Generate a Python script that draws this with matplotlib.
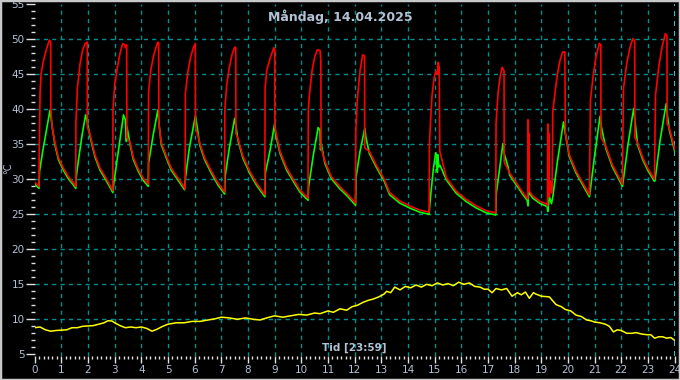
import matplotlib
matplotlib.use("Agg")
import matplotlib.pyplot as plt
from matplotlib.patches import Rectangle

title = "Måndag, 14.04.2025"
xlabel = "Tid [23:59]"
ylabel = "°C"
x_ticks = list(range(0, 25))
y_ticks = [5, 10, 15, 20, 25, 30, 35, 40, 45, 50, 55]

# Green series (hours, °C)
green_t = [0.00, 0.16, 0.18, 0.30, 0.45, 0.575, 0.62, 0.675, 0.76, 0.89, 1.075, 1.26, 1.45, 1.54,
           1.55, 1.65, 1.78, 1.91, 1.97, 2.075, 2.26, 2.45, 2.70, 2.93,
           2.95, 3.10, 3.33, 3.40, 3.44, 3.46, 3.58, 3.70, 3.89, 4.08, 4.26,
           4.27, 4.45, 4.62, 4.66, 4.75, 4.94, 5.12, 5.37, 5.62,
           5.64, 5.80, 6.03, 6.08, 6.19, 6.37, 6.62, 6.87, 7.12,
           7.14, 7.30, 7.50, 7.54, 7.62, 7.81, 8.06, 8.31, 8.63,
           8.65, 8.83, 9.00, 9.03, 9.20, 9.45, 9.70, 9.94, 10.25,
           10.27, 10.45, 10.63, 10.70, 10.72, 10.74, 10.88, 11.12, 11.43, 11.75, 12.03,
           12.05, 12.20, 12.38, 12.42, 12.55, 12.80, 13.11, 13.31, 13.69, 14.06, 14.44, 14.79,
           14.82, 14.95, 15.04, 15.08, 15.10, 15.12, 15.15, 15.20, 15.44, 15.81, 16.19, 16.56, 16.94, 17.29,
           17.31, 17.45, 17.56, 17.62, 17.75, 17.81, 18.06, 18.31, 18.47,
           18.50, 18.52, 18.55, 18.68, 18.93, 19.22,
           19.24, 19.30, 19.38, 19.43, 19.60, 19.83, 19.90, 20.05, 20.30, 20.55, 20.80,
           20.82, 21.00, 21.20, 21.25, 21.42, 21.66, 21.85, 22.04,
           22.06, 22.25, 22.46, 22.52, 22.61, 22.80, 22.99, 23.24,
           23.26, 23.45, 23.68, 23.73, 23.80, 24.00]
green_v = [29.3, 28.7, 31.1, 34.0, 37.2, 39.9, 38.6, 37.0, 34.9, 32.8, 31.3, 30.1, 29.2, 28.7,
           30.1, 33.0, 36.4, 39.2, 38.2, 36.1, 33.2, 31.3, 29.7, 28.1,
           29.0, 33.0, 39.2, 38.5, 35.4, 37.5, 34.9, 32.8, 31.1, 29.8, 29.0,
           32.3, 36.5, 39.9, 38.0, 34.9, 33.0, 31.3, 29.9, 28.5,
           29.8, 34.5, 39.1, 37.8, 34.9, 32.8, 30.9, 29.2, 27.9,
           30.4, 34.5, 38.7, 37.8, 35.6, 33.0, 30.9, 29.2, 27.5,
           30.9, 34.2, 38.0, 36.5, 33.7, 31.3, 29.7, 28.2, 27.0,
           28.9, 33.5, 37.4, 37.0, 34.2, 35.2, 32.3, 30.1, 28.7, 27.5, 26.3,
           30.3, 34.0, 37.3, 36.0, 33.7, 31.8, 29.7, 27.8, 26.6, 25.9, 25.3, 25.0,
           26.6, 31.5, 33.8, 33.2, 31.0, 33.5, 31.8, 32.0, 29.9, 28.0, 26.8, 25.9, 25.2, 24.9,
           28.0, 32.0, 35.1, 33.5, 31.8, 30.6, 29.2, 27.8, 27.0,
           26.2, 28.3, 28.0, 27.3, 26.6, 26.1,
           25.4, 27.5, 26.5, 27.5, 32.5, 38.2, 36.5, 33.2, 30.9, 29.2, 27.5,
           28.0, 33.5, 39.0, 37.5, 34.4, 31.8, 30.4, 29.0,
           29.5, 35.0, 40.1, 38.0, 34.9, 32.8, 31.3, 29.7,
           29.8, 35.5, 40.8, 39.0, 37.0, 34.0]

# Red series (hours, °C)
red_t = [0.00, 0.16, 0.165, 0.20, 0.24, 0.33, 0.45, 0.55, 0.60, 0.605, 0.65, 0.76, 0.89, 1.075, 1.26, 1.45, 1.54,
         1.545, 1.60, 1.70, 1.80, 1.89, 1.97, 1.975, 2.075, 2.26, 2.45, 2.70, 2.93,
         2.935, 3.00, 3.10, 3.20, 3.30, 3.38, 3.40, 3.45, 3.455, 3.58, 3.70, 3.89, 4.08, 4.26,
         4.27, 4.35, 4.45, 4.55, 4.62, 4.65, 4.655, 4.75, 4.94, 5.12, 5.37, 5.62,
         5.64, 5.65, 5.75, 5.85, 5.95, 6.02, 6.03, 6.19, 6.37, 6.62, 6.87, 7.12,
         7.13, 7.20, 7.30, 7.40, 7.50, 7.54, 7.545, 7.62, 7.81, 8.06, 8.31, 8.63,
         8.64, 8.70, 8.83, 8.97, 9.00, 9.005, 9.20, 9.45, 9.70, 9.94, 10.25,
         10.26, 10.30, 10.40, 10.50, 10.60, 10.70, 10.73, 10.74, 10.88, 11.12, 11.43, 11.75, 12.03,
         12.04, 12.10, 12.20, 12.30, 12.37, 12.375, 12.55, 12.80, 13.11, 13.31, 13.69, 14.06, 14.44, 14.79,
         14.80, 14.84, 14.90, 14.98, 15.04, 15.10, 15.13, 15.17, 15.19, 15.44, 15.81, 16.19, 16.56, 16.94, 17.29,
         17.30, 17.38, 17.46, 17.53, 17.60, 17.605, 17.81, 18.06, 18.31, 18.47,
         18.49, 18.50, 18.52, 18.53, 18.55, 18.68, 18.93, 19.22,
         19.23, 19.24, 19.26, 19.28, 19.30, 19.33, 19.40, 19.43, 19.50, 19.60, 19.70, 19.80, 19.88, 19.90,
         20.05, 20.30, 20.55, 20.80,
         20.81, 20.84, 20.95, 21.05, 21.17, 21.23, 21.235, 21.42, 21.66, 21.85, 22.04,
         22.05, 22.08, 22.20, 22.32, 22.43, 22.50, 22.505, 22.61, 22.80, 22.99, 23.24,
         23.25, 23.28, 23.40, 23.52, 23.65, 23.71, 23.715, 23.80, 24.00]
red_v = [29.6, 29.0, 32.3, 42.3, 45.1, 47.0, 48.7, 49.9, 49.6, 40.0, 37.6, 35.2, 33.1, 31.6, 30.4, 29.5, 29.0,
         38.0, 43.0, 46.5, 48.5, 49.4, 49.6, 37.5, 36.4, 33.5, 31.6, 30.0, 28.4,
         39.9, 43.5, 46.0, 48.0, 49.4, 49.2, 48.8, 49.2, 36.0, 35.2, 33.1, 31.4, 30.1, 29.3,
         42.3, 45.5, 47.5, 48.9, 49.6, 49.5, 38.0, 35.2, 33.3, 31.6, 30.2, 28.8,
         28.6, 42.3, 45.5, 47.5, 48.8, 49.4, 37.5, 35.2, 33.1, 31.2, 29.5, 28.2,
         39.9, 43.5, 46.0, 47.8, 48.9, 48.8, 36.5, 35.9, 33.3, 31.2, 29.5, 27.8,
         43.0, 45.5, 47.3, 48.8, 48.5, 37.5, 34.0, 31.6, 30.0, 28.5, 27.3,
         39.9, 42.0, 45.5, 47.5, 48.5, 48.4, 47.0, 34.5, 32.6, 30.4, 29.0, 27.8, 26.6,
         36.6, 41.5, 45.5, 47.8, 47.6, 34.5, 34.0, 32.1, 30.0, 28.1, 26.9, 26.2, 25.6, 25.3,
         34.7, 38.0, 42.0, 44.5, 45.4, 45.0, 46.7, 46.0, 34.0, 30.2, 28.3, 27.1, 26.2, 25.5, 25.2,
         38.0, 42.5, 44.8, 46.0, 45.5, 32.5, 30.9, 29.5, 28.1, 27.3,
         27.2, 38.5, 30.0, 36.6, 28.3, 27.6, 26.9, 26.4,
         26.2, 37.9, 28.0, 36.6, 27.5, 29.8, 28.0, 39.7, 42.0, 45.0, 47.0, 48.2, 48.2, 36.6,
         33.5, 31.2, 29.5, 27.8,
         31.0, 41.3, 45.0, 47.5, 49.4, 49.2, 36.0, 34.7, 32.1, 30.7, 29.3,
         33.7, 43.0, 46.5, 48.8, 50.1, 49.8, 36.0, 35.2, 33.1, 31.6, 30.0,
         33.2, 42.0, 46.0, 48.8, 50.8, 50.5, 38.0, 37.3, 34.3]

# Yellow series (hours, °C)
yellow_t = [0.0, 0.2, 0.4, 0.6, 0.8, 1.0, 1.2, 1.4, 1.6, 1.8, 2.0, 2.2, 2.4, 2.6, 2.75, 2.9, 3.0,
            3.2, 3.4, 3.6, 3.8, 4.0, 4.2, 4.4, 4.6, 4.8, 5.0, 5.3, 5.6, 5.9, 6.2, 6.5, 6.8,
            7.0, 7.3, 7.6, 7.9, 8.2, 8.45, 8.7, 9.0, 9.3, 9.6, 9.9, 10.2, 10.5, 10.7, 11.0,
            11.2, 11.45, 11.7, 11.9, 12.1, 12.3, 12.5, 12.7, 12.9, 13.1, 13.2, 13.35, 13.5,
            13.7, 13.9, 14.1, 14.3, 14.5, 14.7, 14.9, 15.1, 15.3, 15.5, 15.7, 15.9, 16.1,
            16.3, 16.5, 16.7, 16.85, 17.0, 17.15, 17.3, 17.5, 17.7, 17.9, 18.1, 18.25, 18.4,
            18.55, 18.7, 18.8, 19.0, 19.3, 19.55, 19.75, 19.9, 20.1, 20.3, 20.5, 20.7, 20.85,
            21.0, 21.2, 21.4, 21.55, 21.7, 21.85, 22.0, 22.2, 22.4, 22.55, 22.75, 22.95, 23.1,
            23.25, 23.4, 23.55, 23.7, 23.85, 24.0]
yellow_v = [8.8, 8.9, 8.5, 8.3, 8.4, 8.45, 8.5, 8.8, 8.8, 9.0, 9.05, 9.1, 9.3, 9.5, 9.8, 9.75, 9.5,
            9.1, 8.8, 8.9, 8.8, 8.9, 8.7, 8.3, 8.6, 9.0, 9.3, 9.5, 9.5, 9.7, 9.7, 9.9, 10.1,
            10.3, 10.2, 10.0, 10.2, 10.0, 9.9, 10.2, 10.5, 10.3, 10.5, 10.7, 10.6, 10.9, 10.8, 11.2,
            11.0, 11.5, 11.3, 11.8, 12.0, 12.4, 12.7, 12.9, 13.2, 13.6, 14.0, 13.8, 14.6,
            14.2, 14.7, 14.5, 14.9, 14.6, 15.0, 14.8, 15.2, 14.9, 15.1, 14.8, 15.3, 15.0,
            15.2, 14.7, 14.6, 14.3, 14.3, 13.8, 14.4, 14.2, 14.4, 13.3, 13.8, 13.5, 13.9,
            13.0, 13.8, 13.6, 13.3, 13.2, 12.1, 11.8, 11.4, 11.2, 10.6, 10.4, 9.9, 9.8,
            9.6, 9.5, 9.3, 9.0, 8.2, 8.5, 8.4, 8.0, 8.0, 8.1, 7.9, 7.8, 7.8,
            7.3, 7.5, 7.5, 7.3, 7.4, 7.0]

FG = "#b4c0d4"
GRID = "#008f8f"

fig = plt.figure(figsize=(6.8, 3.8), dpi=100, facecolor="black")
ax = fig.add_axes([34.7 / 680, 1 - 356.4 / 380, 640 / 680, (356.4 - 4.3) / 380])
ax.set_facecolor("black")
for s in ax.spines.values():
    s.set_visible(False)

ax.set_xlim(0, 24)
ax.set_ylim(4.7, 55)

for h in range(1, 24):
    ax.axvline(h, color=GRID, lw=1.0, ls=(0, (3, 3)), zorder=1)
for v in range(10, 55, 5):
    ax.axhline(v, color=GRID, lw=1.0, ls=(0, (3, 3)), zorder=1)
ax.axvline(24, color="#40e8f8", lw=1.2, ls=(0, (3, 3)), zorder=1)

ax.plot(yellow_t, yellow_v, color="#ffff00", lw=1.1, zorder=3)
ax.plot(green_t, green_v, color="#00ff00", lw=1.2, zorder=3)
ax.plot(red_t, red_v, color="#ff0000", lw=1.2, zorder=4)

ax.set_xticks(x_ticks)
ax.set_xticks([m / 6 for m in range(0, 24 * 6 + 1)], minor=True)
ax.set_yticks(y_ticks)
ax.set_yticks(list(range(5, 56)), minor=True)
ax.tick_params(axis="both", which="both", colors="#e0e0e0", labelcolor=FG, labelsize=7.5, direction="out")
ax.tick_params(axis="y", which="major", length=6.2, width=1, pad=1)
ax.tick_params(axis="y", which="minor", length=2.6, width=1)
ax.tick_params(axis="x", which="major", length=5.0, width=1, pad=1.5)
ax.tick_params(axis="x", which="minor", length=2.5, width=1)

ax.text(12, 5.9, xlabel, color=FG, fontsize=7.5, fontweight="bold", ha="center", va="center", zorder=5)
fig.text(340 / 680, 1 - 17 / 380, title, color=FG, fontsize=9, fontweight="bold", ha="center", va="center")
fig.text(8 / 680, 1 - 168 / 380, ylabel, color=FG, fontsize=7, rotation=90, ha="center", va="center")

fig.patches.append(Rectangle((0, 0), 1, 1, transform=fig.transFigure, fill=False,
                             edgecolor="#c8c8c8", lw=2.5, zorder=10))

fig.savefig("out.png", dpi=100, facecolor="black")
